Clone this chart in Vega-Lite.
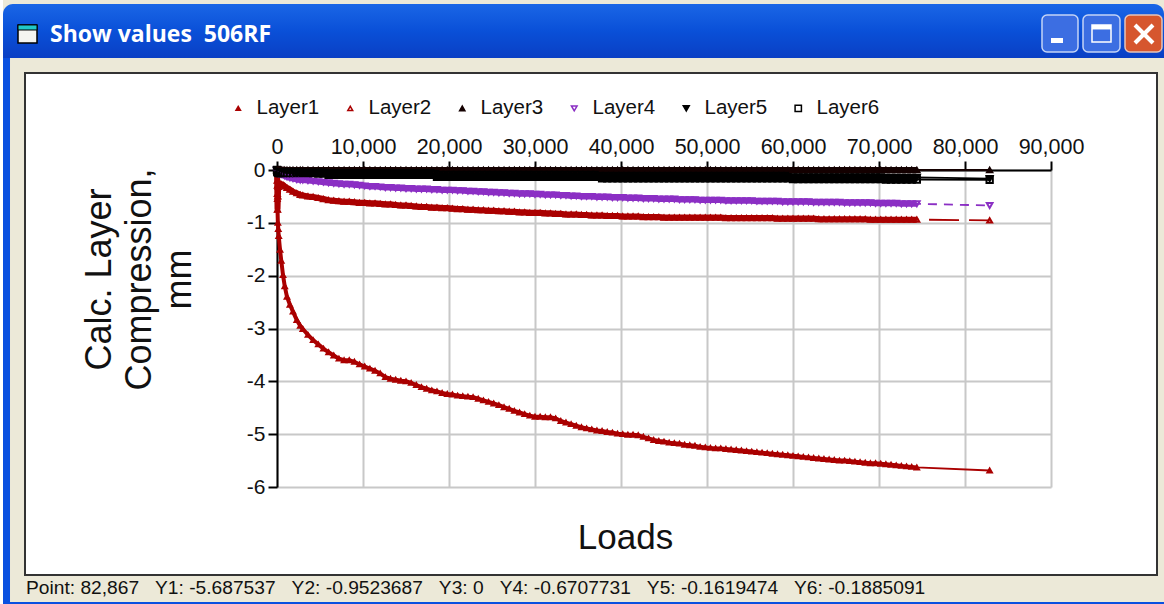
{"$schema":"https://vega.github.io/schema/vega-lite/v6.json","width":1132,"height":502,"autosize":"none","padding":{"left":25,"top":73,"right":7,"bottom":29},"background":"#ece9d8","view":{"fill":"#ffffff","stroke":"#333333","strokeWidth":2},
"datasets":{"loads":[
{"L":0,"Layer1":0,"Layer2":0,"Layer3":0,"Layer4":0,"Layer5":0,"Layer6":0},
{"L":20,"Layer1":-0.3,"Layer2":-0.2,"Layer3":0,"Layer4":-0.02,"Layer5":-0.01,"Layer6":-0.02},
{"L":40,"Layer1":-0.55,"Layer2":-0.45,"Layer3":0,"Layer4":-0.04,"Layer5":-0.02,"Layer6":-0.03},
{"L":60,"Layer1":-0.75,"Layer2":-0.75,"Layer3":0,"Layer4":-0.05,"Layer5":-0.02,"Layer6":-0.04},
{"L":100,"Layer1":-1,"Layer2":-0.5,"Layer3":0,"Layer4":-0.06,"Layer5":-0.03,"Layer6":-0.05},
{"L":150,"Layer1":-1.12,"Layer2":-0.32,"Layer3":0,"Layer4":-0.06,"Layer5":-0.03,"Layer6":-0.05},
{"L":200,"Layer1":-1.25,"Layer2":-0.27,"Layer3":0,"Layer4":-0.07,"Layer5":-0.03,"Layer6":-0.06},
{"L":350,"Layer1":-1.51,"Layer2":-0.26,"Layer3":0,"Layer4":-0.07,"Layer5":-0.03,"Layer6":-0.06},
{"L":500,"Layer1":-1.72,"Layer2":-0.27,"Layer3":0,"Layer4":-0.08,"Layer5":-0.03,"Layer6":-0.06},
{"L":700,"Layer1":-1.99,"Layer2":-0.28,"Layer3":0,"Layer4":-0.09,"Layer5":-0.03,"Layer6":-0.06},
{"L":900,"Layer1":-2.2,"Layer2":-0.31,"Layer3":0,"Layer4":-0.11,"Layer5":-0.03,"Layer6":-0.06},
{"L":1160,"Layer1":-2.4,"Layer2":-0.34,"Layer3":0,"Layer4":-0.13,"Layer5":-0.03,"Layer6":-0.06},
{"L":1500,"Layer1":-2.55,"Layer2":-0.37,"Layer3":0,"Layer4":-0.15,"Layer5":-0.03,"Layer6":-0.06},
{"L":1860,"Layer1":-2.68,"Layer2":-0.41,"Layer3":0,"Layer4":-0.16,"Layer5":-0.03,"Layer6":-0.06},
{"L":2300,"Layer1":-2.84,"Layer2":-0.44,"Layer3":0,"Layer4":-0.18,"Layer5":-0.03,"Layer6":-0.06},
{"L":2700,"Layer1":-2.95,"Layer2":-0.47,"Layer3":0,"Layer4":-0.19,"Layer5":-0.03,"Layer6":-0.06},
{"L":3000,"Layer1":-3.01,"Layer2":-0.48,"Layer3":0,"Layer4":-0.19,"Layer5":-0.04,"Layer6":-0.06},
{"L":3600,"Layer1":-3.12,"Layer2":-0.5,"Layer3":0,"Layer4":-0.2,"Layer5":-0.04,"Layer6":-0.06},
{"L":4200,"Layer1":-3.22,"Layer2":-0.51,"Layer3":0,"Layer4":-0.21,"Layer5":-0.04,"Layer6":-0.06},
{"L":4800,"Layer1":-3.3,"Layer2":-0.53,"Layer3":0,"Layer4":-0.22,"Layer5":-0.04,"Layer6":-0.07},
{"L":5400,"Layer1":-3.38,"Layer2":-0.55,"Layer3":0,"Layer4":-0.23,"Layer5":-0.04,"Layer6":-0.07},
{"L":6000,"Layer1":-3.45,"Layer2":-0.57,"Layer3":0,"Layer4":-0.24,"Layer5":-0.05,"Layer6":-0.09},
{"L":6600,"Layer1":-3.51,"Layer2":-0.58,"Layer3":0,"Layer4":-0.25,"Layer5":-0.05,"Layer6":-0.09},
{"L":7200,"Layer1":-3.57,"Layer2":-0.59,"Layer3":0,"Layer4":-0.26,"Layer5":-0.05,"Layer6":-0.09},
{"L":7800,"Layer1":-3.6,"Layer2":-0.6,"Layer3":0,"Layer4":-0.27,"Layer5":-0.05,"Layer6":-0.09},
{"L":8400,"Layer1":-3.6,"Layer2":-0.6,"Layer3":0,"Layer4":-0.27,"Layer5":-0.05,"Layer6":-0.09},
{"L":9000,"Layer1":-3.63,"Layer2":-0.61,"Layer3":0,"Layer4":-0.28,"Layer5":-0.05,"Layer6":-0.09},
{"L":9600,"Layer1":-3.68,"Layer2":-0.62,"Layer3":0,"Layer4":-0.29,"Layer5":-0.05,"Layer6":-0.09},
{"L":10200,"Layer1":-3.72,"Layer2":-0.62,"Layer3":0,"Layer4":-0.3,"Layer5":-0.05,"Layer6":-0.09},
{"L":10800,"Layer1":-3.76,"Layer2":-0.63,"Layer3":0,"Layer4":-0.31,"Layer5":-0.05,"Layer6":-0.09},
{"L":11400,"Layer1":-3.8,"Layer2":-0.63,"Layer3":0,"Layer4":-0.31,"Layer5":-0.05,"Layer6":-0.09},
{"L":12000,"Layer1":-3.85,"Layer2":-0.64,"Layer3":0,"Layer4":-0.32,"Layer5":-0.05,"Layer6":-0.09},
{"L":12600,"Layer1":-3.92,"Layer2":-0.65,"Layer3":0,"Layer4":-0.33,"Layer5":-0.05,"Layer6":-0.09},
{"L":13200,"Layer1":-3.95,"Layer2":-0.65,"Layer3":0,"Layer4":-0.33,"Layer5":-0.05,"Layer6":-0.09},
{"L":13800,"Layer1":-3.97,"Layer2":-0.66,"Layer3":0,"Layer4":-0.34,"Layer5":-0.05,"Layer6":-0.09},
{"L":14400,"Layer1":-3.99,"Layer2":-0.67,"Layer3":0,"Layer4":-0.34,"Layer5":-0.05,"Layer6":-0.09},
{"L":15000,"Layer1":-4,"Layer2":-0.67,"Layer3":0,"Layer4":-0.35,"Layer5":-0.05,"Layer6":-0.09},
{"L":15600,"Layer1":-4.03,"Layer2":-0.68,"Layer3":0,"Layer4":-0.35,"Layer5":-0.05,"Layer6":-0.09},
{"L":16200,"Layer1":-4.07,"Layer2":-0.69,"Layer3":0,"Layer4":-0.36,"Layer5":-0.05,"Layer6":-0.09},
{"L":16800,"Layer1":-4.11,"Layer2":-0.7,"Layer3":0,"Layer4":-0.36,"Layer5":-0.05,"Layer6":-0.09},
{"L":17400,"Layer1":-4.14,"Layer2":-0.7,"Layer3":0,"Layer4":-0.36,"Layer5":-0.05,"Layer6":-0.09},
{"L":18000,"Layer1":-4.17,"Layer2":-0.71,"Layer3":0,"Layer4":-0.37,"Layer5":-0.05,"Layer6":-0.09},
{"L":18600,"Layer1":-4.19,"Layer2":-0.71,"Layer3":0,"Layer4":-0.37,"Layer5":-0.07,"Layer6":-0.13},
{"L":19200,"Layer1":-4.22,"Layer2":-0.72,"Layer3":0,"Layer4":-0.38,"Layer5":-0.08,"Layer6":-0.13},
{"L":19800,"Layer1":-4.24,"Layer2":-0.72,"Layer3":0,"Layer4":-0.38,"Layer5":-0.08,"Layer6":-0.13},
{"L":20400,"Layer1":-4.25,"Layer2":-0.73,"Layer3":0,"Layer4":-0.38,"Layer5":-0.08,"Layer6":-0.13},
{"L":21000,"Layer1":-4.27,"Layer2":-0.74,"Layer3":0,"Layer4":-0.39,"Layer5":-0.08,"Layer6":-0.13},
{"L":21600,"Layer1":-4.28,"Layer2":-0.74,"Layer3":0,"Layer4":-0.39,"Layer5":-0.08,"Layer6":-0.13},
{"L":22200,"Layer1":-4.29,"Layer2":-0.75,"Layer3":0,"Layer4":-0.4,"Layer5":-0.08,"Layer6":-0.13},
{"L":22800,"Layer1":-4.3,"Layer2":-0.75,"Layer3":0,"Layer4":-0.4,"Layer5":-0.08,"Layer6":-0.13},
{"L":23400,"Layer1":-4.33,"Layer2":-0.76,"Layer3":0,"Layer4":-0.41,"Layer5":-0.08,"Layer6":-0.13},
{"L":24000,"Layer1":-4.36,"Layer2":-0.76,"Layer3":0,"Layer4":-0.41,"Layer5":-0.08,"Layer6":-0.13},
{"L":24600,"Layer1":-4.39,"Layer2":-0.77,"Layer3":0,"Layer4":-0.42,"Layer5":-0.08,"Layer6":-0.13},
{"L":25200,"Layer1":-4.42,"Layer2":-0.77,"Layer3":0,"Layer4":-0.42,"Layer5":-0.08,"Layer6":-0.13},
{"L":25800,"Layer1":-4.45,"Layer2":-0.78,"Layer3":0,"Layer4":-0.43,"Layer5":-0.08,"Layer6":-0.13},
{"L":26400,"Layer1":-4.49,"Layer2":-0.78,"Layer3":0,"Layer4":-0.43,"Layer5":-0.08,"Layer6":-0.13},
{"L":27000,"Layer1":-4.52,"Layer2":-0.79,"Layer3":0,"Layer4":-0.44,"Layer5":-0.08,"Layer6":-0.13},
{"L":27600,"Layer1":-4.56,"Layer2":-0.79,"Layer3":0,"Layer4":-0.44,"Layer5":-0.08,"Layer6":-0.13},
{"L":28200,"Layer1":-4.59,"Layer2":-0.8,"Layer3":0,"Layer4":-0.45,"Layer5":-0.08,"Layer6":-0.13},
{"L":28800,"Layer1":-4.62,"Layer2":-0.8,"Layer3":0,"Layer4":-0.45,"Layer5":-0.08,"Layer6":-0.13},
{"L":29400,"Layer1":-4.65,"Layer2":-0.81,"Layer3":0,"Layer4":-0.45,"Layer5":-0.08,"Layer6":-0.13},
{"L":30000,"Layer1":-4.67,"Layer2":-0.81,"Layer3":0,"Layer4":-0.46,"Layer5":-0.08,"Layer6":-0.13},
{"L":30600,"Layer1":-4.67,"Layer2":-0.81,"Layer3":0,"Layer4":-0.46,"Layer5":-0.08,"Layer6":-0.13},
{"L":31200,"Layer1":-4.68,"Layer2":-0.82,"Layer3":0,"Layer4":-0.47,"Layer5":-0.08,"Layer6":-0.13},
{"L":31800,"Layer1":-4.68,"Layer2":-0.82,"Layer3":0,"Layer4":-0.47,"Layer5":-0.08,"Layer6":-0.13},
{"L":32400,"Layer1":-4.7,"Layer2":-0.83,"Layer3":0,"Layer4":-0.47,"Layer5":-0.08,"Layer6":-0.13},
{"L":33000,"Layer1":-4.75,"Layer2":-0.83,"Layer3":0,"Layer4":-0.48,"Layer5":-0.08,"Layer6":-0.13},
{"L":33600,"Layer1":-4.78,"Layer2":-0.84,"Layer3":0,"Layer4":-0.48,"Layer5":-0.08,"Layer6":-0.13},
{"L":34200,"Layer1":-4.81,"Layer2":-0.84,"Layer3":0,"Layer4":-0.49,"Layer5":-0.08,"Layer6":-0.13},
{"L":34800,"Layer1":-4.84,"Layer2":-0.84,"Layer3":0,"Layer4":-0.49,"Layer5":-0.08,"Layer6":-0.13},
{"L":35400,"Layer1":-4.87,"Layer2":-0.85,"Layer3":0,"Layer4":-0.5,"Layer5":-0.08,"Layer6":-0.13},
{"L":36000,"Layer1":-4.89,"Layer2":-0.85,"Layer3":0,"Layer4":-0.5,"Layer5":-0.08,"Layer6":-0.13},
{"L":36600,"Layer1":-4.91,"Layer2":-0.86,"Layer3":0,"Layer4":-0.5,"Layer5":-0.08,"Layer6":-0.13},
{"L":37200,"Layer1":-4.93,"Layer2":-0.86,"Layer3":0,"Layer4":-0.51,"Layer5":-0.08,"Layer6":-0.13},
{"L":37800,"Layer1":-4.94,"Layer2":-0.86,"Layer3":0,"Layer4":-0.51,"Layer5":-0.1,"Layer6":-0.16},
{"L":38400,"Layer1":-4.96,"Layer2":-0.87,"Layer3":0,"Layer4":-0.51,"Layer5":-0.1,"Layer6":-0.16},
{"L":39000,"Layer1":-4.97,"Layer2":-0.87,"Layer3":0,"Layer4":-0.52,"Layer5":-0.1,"Layer6":-0.16},
{"L":39600,"Layer1":-4.99,"Layer2":-0.87,"Layer3":0,"Layer4":-0.52,"Layer5":-0.1,"Layer6":-0.16},
{"L":40200,"Layer1":-5,"Layer2":-0.88,"Layer3":0,"Layer4":-0.52,"Layer5":-0.1,"Layer6":-0.16},
{"L":40800,"Layer1":-5.01,"Layer2":-0.88,"Layer3":0,"Layer4":-0.53,"Layer5":-0.1,"Layer6":-0.16},
{"L":41400,"Layer1":-5.01,"Layer2":-0.88,"Layer3":0,"Layer4":-0.53,"Layer5":-0.1,"Layer6":-0.16},
{"L":42000,"Layer1":-5.02,"Layer2":-0.88,"Layer3":0,"Layer4":-0.53,"Layer5":-0.1,"Layer6":-0.16},
{"L":42600,"Layer1":-5.05,"Layer2":-0.89,"Layer3":0,"Layer4":-0.54,"Layer5":-0.1,"Layer6":-0.16},
{"L":43200,"Layer1":-5.08,"Layer2":-0.89,"Layer3":0,"Layer4":-0.54,"Layer5":-0.1,"Layer6":-0.16},
{"L":43800,"Layer1":-5.11,"Layer2":-0.89,"Layer3":0,"Layer4":-0.54,"Layer5":-0.1,"Layer6":-0.16},
{"L":44400,"Layer1":-5.13,"Layer2":-0.89,"Layer3":0,"Layer4":-0.55,"Layer5":-0.1,"Layer6":-0.16},
{"L":45000,"Layer1":-5.14,"Layer2":-0.9,"Layer3":0,"Layer4":-0.55,"Layer5":-0.1,"Layer6":-0.16},
{"L":45600,"Layer1":-5.16,"Layer2":-0.9,"Layer3":0,"Layer4":-0.55,"Layer5":-0.1,"Layer6":-0.16},
{"L":46200,"Layer1":-5.17,"Layer2":-0.9,"Layer3":0,"Layer4":-0.55,"Layer5":-0.1,"Layer6":-0.16},
{"L":46800,"Layer1":-5.18,"Layer2":-0.9,"Layer3":0,"Layer4":-0.56,"Layer5":-0.1,"Layer6":-0.16},
{"L":47400,"Layer1":-5.2,"Layer2":-0.9,"Layer3":0,"Layer4":-0.56,"Layer5":-0.1,"Layer6":-0.16},
{"L":48000,"Layer1":-5.21,"Layer2":-0.9,"Layer3":0,"Layer4":-0.56,"Layer5":-0.1,"Layer6":-0.16},
{"L":48600,"Layer1":-5.22,"Layer2":-0.9,"Layer3":0,"Layer4":-0.56,"Layer5":-0.1,"Layer6":-0.16},
{"L":49200,"Layer1":-5.24,"Layer2":-0.9,"Layer3":0,"Layer4":-0.57,"Layer5":-0.1,"Layer6":-0.16},
{"L":49800,"Layer1":-5.25,"Layer2":-0.9,"Layer3":0,"Layer4":-0.57,"Layer5":-0.1,"Layer6":-0.16},
{"L":50400,"Layer1":-5.26,"Layer2":-0.9,"Layer3":0,"Layer4":-0.57,"Layer5":-0.1,"Layer6":-0.16},
{"L":51000,"Layer1":-5.27,"Layer2":-0.9,"Layer3":0,"Layer4":-0.57,"Layer5":-0.1,"Layer6":-0.16},
{"L":51600,"Layer1":-5.27,"Layer2":-0.9,"Layer3":0,"Layer4":-0.57,"Layer5":-0.1,"Layer6":-0.16},
{"L":52200,"Layer1":-5.28,"Layer2":-0.91,"Layer3":0,"Layer4":-0.58,"Layer5":-0.1,"Layer6":-0.16},
{"L":52800,"Layer1":-5.29,"Layer2":-0.91,"Layer3":0,"Layer4":-0.58,"Layer5":-0.1,"Layer6":-0.16},
{"L":53400,"Layer1":-5.3,"Layer2":-0.91,"Layer3":0,"Layer4":-0.58,"Layer5":-0.1,"Layer6":-0.16},
{"L":54000,"Layer1":-5.31,"Layer2":-0.91,"Layer3":0,"Layer4":-0.58,"Layer5":-0.1,"Layer6":-0.16},
{"L":54600,"Layer1":-5.32,"Layer2":-0.91,"Layer3":0,"Layer4":-0.58,"Layer5":-0.1,"Layer6":-0.16},
{"L":55200,"Layer1":-5.33,"Layer2":-0.91,"Layer3":0,"Layer4":-0.58,"Layer5":-0.1,"Layer6":-0.16},
{"L":55800,"Layer1":-5.34,"Layer2":-0.91,"Layer3":0,"Layer4":-0.59,"Layer5":-0.1,"Layer6":-0.16},
{"L":56400,"Layer1":-5.35,"Layer2":-0.91,"Layer3":0,"Layer4":-0.59,"Layer5":-0.1,"Layer6":-0.16},
{"L":57000,"Layer1":-5.36,"Layer2":-0.91,"Layer3":0,"Layer4":-0.59,"Layer5":-0.1,"Layer6":-0.16},
{"L":57600,"Layer1":-5.37,"Layer2":-0.91,"Layer3":0,"Layer4":-0.59,"Layer5":-0.1,"Layer6":-0.16},
{"L":58200,"Layer1":-5.38,"Layer2":-0.92,"Layer3":0,"Layer4":-0.59,"Layer5":-0.1,"Layer6":-0.16},
{"L":58800,"Layer1":-5.39,"Layer2":-0.92,"Layer3":0,"Layer4":-0.6,"Layer5":-0.1,"Layer6":-0.16},
{"L":59400,"Layer1":-5.4,"Layer2":-0.92,"Layer3":0,"Layer4":-0.6,"Layer5":-0.1,"Layer6":-0.16},
{"L":60000,"Layer1":-5.41,"Layer2":-0.92,"Layer3":0,"Layer4":-0.6,"Layer5":-0.13,"Layer6":-0.17},
{"L":60600,"Layer1":-5.42,"Layer2":-0.92,"Layer3":0,"Layer4":-0.6,"Layer5":-0.13,"Layer6":-0.17},
{"L":61200,"Layer1":-5.43,"Layer2":-0.92,"Layer3":0,"Layer4":-0.6,"Layer5":-0.13,"Layer6":-0.17},
{"L":61800,"Layer1":-5.44,"Layer2":-0.92,"Layer3":0,"Layer4":-0.6,"Layer5":-0.13,"Layer6":-0.17},
{"L":62400,"Layer1":-5.45,"Layer2":-0.92,"Layer3":0,"Layer4":-0.61,"Layer5":-0.13,"Layer6":-0.17},
{"L":63000,"Layer1":-5.46,"Layer2":-0.93,"Layer3":0,"Layer4":-0.61,"Layer5":-0.13,"Layer6":-0.17},
{"L":63600,"Layer1":-5.47,"Layer2":-0.93,"Layer3":0,"Layer4":-0.61,"Layer5":-0.13,"Layer6":-0.17},
{"L":64200,"Layer1":-5.48,"Layer2":-0.93,"Layer3":0,"Layer4":-0.61,"Layer5":-0.13,"Layer6":-0.17},
{"L":64800,"Layer1":-5.49,"Layer2":-0.93,"Layer3":0,"Layer4":-0.61,"Layer5":-0.13,"Layer6":-0.17},
{"L":65400,"Layer1":-5.5,"Layer2":-0.93,"Layer3":0,"Layer4":-0.61,"Layer5":-0.13,"Layer6":-0.17},
{"L":66000,"Layer1":-5.5,"Layer2":-0.93,"Layer3":0,"Layer4":-0.62,"Layer5":-0.13,"Layer6":-0.17},
{"L":66600,"Layer1":-5.51,"Layer2":-0.93,"Layer3":0,"Layer4":-0.62,"Layer5":-0.13,"Layer6":-0.17},
{"L":67200,"Layer1":-5.52,"Layer2":-0.93,"Layer3":0,"Layer4":-0.62,"Layer5":-0.13,"Layer6":-0.17},
{"L":67800,"Layer1":-5.53,"Layer2":-0.93,"Layer3":0,"Layer4":-0.62,"Layer5":-0.13,"Layer6":-0.17},
{"L":68400,"Layer1":-5.54,"Layer2":-0.93,"Layer3":0,"Layer4":-0.62,"Layer5":-0.13,"Layer6":-0.17},
{"L":69000,"Layer1":-5.55,"Layer2":-0.94,"Layer3":0,"Layer4":-0.62,"Layer5":-0.13,"Layer6":-0.17},
{"L":69600,"Layer1":-5.55,"Layer2":-0.94,"Layer3":0,"Layer4":-0.63,"Layer5":-0.13,"Layer6":-0.17},
{"L":70200,"Layer1":-5.56,"Layer2":-0.94,"Layer3":0,"Layer4":-0.63,"Layer5":-0.13,"Layer6":-0.17},
{"L":70800,"Layer1":-5.57,"Layer2":-0.94,"Layer3":0,"Layer4":-0.63,"Layer5":-0.14,"Layer6":-0.18},
{"L":71400,"Layer1":-5.58,"Layer2":-0.94,"Layer3":0,"Layer4":-0.63,"Layer5":-0.14,"Layer6":-0.18},
{"L":72000,"Layer1":-5.59,"Layer2":-0.94,"Layer3":0,"Layer4":-0.63,"Layer5":-0.14,"Layer6":-0.18},
{"L":72600,"Layer1":-5.6,"Layer2":-0.94,"Layer3":0,"Layer4":-0.64,"Layer5":-0.14,"Layer6":-0.18},
{"L":73200,"Layer1":-5.61,"Layer2":-0.94,"Layer3":0,"Layer4":-0.64,"Layer5":-0.14,"Layer6":-0.18},
{"L":73800,"Layer1":-5.62,"Layer2":-0.94,"Layer3":0,"Layer4":-0.64,"Layer5":-0.14,"Layer6":-0.18},
{"L":74400,"Layer1":-5.63,"Layer2":-0.94,"Layer3":0,"Layer4":-0.64,"Layer5":-0.14,"Layer6":-0.18},
{"L":82867,"Layer1":-5.687537,"Layer2":-0.9523687,"Layer3":0,"Layer4":-0.6707731,"Layer5":-0.1619474,"Layer6":-0.1885091}
]},
"layer":[
{"data":{"name":"loads"},"transform":[{"fold":["Layer1","Layer2","Layer3","Layer4","Layer5","Layer6"],"as":["Layer","Compression"]}],
"layer":[
{"transform":[{"filter":"datum.L <= 74400 && datum.Layer == 'Layer1'"}],"mark":{"type":"line","strokeWidth":4,"interpolate":"linear"},"encoding":{"stroke":{"field":"Layer","type":"nominal","title":null,"scale":{"domain":["Layer1","Layer2","Layer3","Layer4","Layer5","Layer6"],"range":["#aa0000","#aa0000","#140000","#8b2fc4","#000000","#000000"]}}}},
{"transform":[{"filter":"datum.L <= 74400 && datum.Layer != 'Layer1'"}],"mark":{"type":"line","strokeWidth":6,"interpolate":"linear"},"encoding":{"stroke":{"field":"Layer","type":"nominal","title":null,"scale":{"domain":["Layer1","Layer2","Layer3","Layer4","Layer5","Layer6"],"range":["#aa0000","#aa0000","#140000","#8b2fc4","#000000","#000000"]}}}},
{"transform":[{"filter":"datum.Layer != 'Layer2' && datum.Layer != 'Layer4'"}],"mark":{"type":"line","strokeWidth":1.8,"interpolate":"linear"},"encoding":{"stroke":{"field":"Layer","type":"nominal","title":null,"scale":{"domain":["Layer1","Layer2","Layer3","Layer4","Layer5","Layer6"],"range":["#aa0000","#aa0000","#140000","#8b2fc4","#000000","#000000"]}}}},
{"transform":[{"filter":"datum.Layer == 'Layer2'"}],"mark":{"type":"line","strokeWidth":1.8,"strokeDash":[30,10],"interpolate":"linear"},"encoding":{"stroke":{"field":"Layer","type":"nominal","title":null,"scale":{"domain":["Layer1","Layer2","Layer3","Layer4","Layer5","Layer6"],"range":["#aa0000","#aa0000","#140000","#8b2fc4","#000000","#000000"]}}}},
{"transform":[{"filter":"datum.Layer == 'Layer4'"}],"mark":{"type":"line","strokeWidth":1.8,"strokeDash":[9,7],"interpolate":"linear"},"encoding":{"stroke":{"field":"Layer","type":"nominal","title":null,"scale":{"domain":["Layer1","Layer2","Layer3","Layer4","Layer5","Layer6"],"range":["#aa0000","#aa0000","#140000","#8b2fc4","#000000","#000000"]}}}},
{"mark":{"type":"point","strokeWidth":2,"opacity":1},"encoding":{
"stroke":{"field":"Layer","type":"nominal","title":null,"scale":{"domain":["Layer1","Layer2","Layer3","Layer4","Layer5","Layer6"],"range":["#aa0000","#aa0000","#140000","#8b2fc4","#000000","#000000"]},"legend":{"orient":"none","legendX":203,"legendY":25,"direction":"horizontal","columns":6,"columnPadding":20,"labelFont":"Liberation Sans","labelFontSize":20.5,"labelColor":"#111111","labelOffset":8,"symbolStrokeWidth":1.5,"gridAlign":"all"}},
"fill":{"field":"Layer","type":"nominal","title":null,"scale":{"domain":["Layer1","Layer2","Layer3","Layer4","Layer5","Layer6"],"range":["#aa0000","transparent","#140000","transparent","#000000","transparent"]}},
"shape":{"field":"Layer","type":"nominal","title":null,"scale":{"domain":["Layer1","Layer2","Layer3","Layer4","Layer5","Layer6"],"range":["triangle-up","triangle-up","triangle-up","triangle-down","triangle-down","square"]}},
"size":{"field":"Layer","type":"nominal","title":null,"scale":{"domain":["Layer1","Layer2","Layer3","Layer4","Layer5","Layer6"],"range":[20,40,48,48,48,40]}}}}
],
"encoding":{
"x":{"field":"L","type":"quantitative","scale":{"domain":[0,90000],"range":[252,1026],"nice":false,"zero":false},"axis":{"orient":"top","offset":-97,"values":[0,10000,20000,30000,40000,50000,60000,70000,80000,90000],"labelExpr":"format(datum.value, ',')","labelOverlap":false,"labelFlush":false,"labelBound":false,"title":"Loads","titleFont":"Liberation Sans","titleFontSize":35,"titleFontWeight":"normal","titleColor":"#111111","titleX":600,"titleY":367,"titleBaseline":"middle","labelFont":"Liberation Sans","labelFontSize":21.5,"labelColor":"#111111","labelPadding":3,"tickSize":9,"tickWidth":2,"tickColor":"#000000","domainColor":"#000000","domainWidth":2,"grid":true,"gridColor":"#c8c8c8","gridWidth":2}},
"y":{"field":"Compression","type":"quantitative","scale":{"domain":[-6,0],"range":[414,97],"nice":false,"zero":false},"axis":{"orient":"left","offset":-252,"values":[-6,-5,-4,-3,-2,-1,0],"labelExpr":"'' + datum.value","labelOverlap":false,"labelFlush":false,"title":["Calc. Layer","Compression,","mm"],"titleFont":"Liberation Sans","titleFontSize":36,"titleFontWeight":"normal","titleColor":"#111111","titleLineHeight":40,"titleAngle":-90,"titleX":-178,"titleY":206,"titleBaseline":"middle","titleAlign":"center","labelFont":"Liberation Sans","labelFontSize":21,"labelColor":"#111111","labelPadding":3,"tickSize":9,"tickWidth":2,"tickColor":"#000000","domainColor":"#000000","domainWidth":2,"grid":true,"gridColor":"#c8c8c8","gridWidth":2}}
}},
{"data":{"values":[{}]},"mark":{"type":"rect","fill":{"gradient":"linear","x1":0,"y1":0,"x2":0,"y2":1,"stops":[{"offset":0,"color":"#1a66e6"},{"offset":0.5,"color":"#0a50d8"},{"offset":1,"color":"#0a3fc4"}]},"cornerRadiusTopLeft":10,"cornerRadiusTopRight":10},"encoding":{"x":{"datum":-31860,"type":"quantitative"},"x2":{"datum":103140},"y":{"datum":3.142,"type":"quantitative"},"y2":{"datum":2.12}}},
{"data":{"values":[{}]},"mark":{"type":"rect","fill":"#0a50e0"},"encoding":{"x":{"datum":-31860,"type":"quantitative"},"x2":{"datum":-31046},"y":{"datum":2.12,"type":"quantitative"},"y2":{"datum":-8.177}}},
{"data":{"values":[{}]},"mark":{"type":"rect","fill":"#0a50e0"},"encoding":{"x":{"datum":-31860,"type":"quantitative"},"x2":{"datum":103140},"y":{"datum":-8.177,"type":"quantitative"},"y2":{"datum":-8.2146}}},
{"data":{"values":[{}]},"mark":{"type":"rect","fill":"#ffffff"},"encoding":{"x":{"datum":-32209,"type":"quantitative"},"x2":{"datum":-31860},"y":{"datum":3.218,"type":"quantitative"},"y2":{"datum":-8.2146}}},
{"data":{"values":[{}]},"mark":{"type":"rect","fill":"#3c6ee2","stroke":"#c4d4f6","strokeWidth":1.5,"cornerRadius":5},"encoding":{"x":{"datum":88953,"type":"quantitative"},"x2":{"datum":93140},"y":{"datum":2.934,"type":"quantitative"},"y2":{"datum":2.233}}},
{"data":{"values":[{}]},"mark":{"type":"rect","fill":"#3c6ee2","stroke":"#c4d4f6","strokeWidth":1.5,"cornerRadius":5},"encoding":{"x":{"datum":93721,"type":"quantitative"},"x2":{"datum":98023},"y":{"datum":2.934,"type":"quantitative"},"y2":{"datum":2.233}}},
{"data":{"values":[{}]},"mark":{"type":"rect","fill":"#d6562e","stroke":"#e8c4b8","strokeWidth":1.5,"cornerRadius":5},"encoding":{"x":{"datum":98605,"type":"quantitative"},"x2":{"datum":102907},"y":{"datum":2.934,"type":"quantitative"},"y2":{"datum":2.233}}},
{"data":{"values":[{}]},"mark":{"type":"rect","fill":"#ffffff"},"encoding":{"x":{"datum":90000,"type":"quantitative"},"x2":{"datum":91395},"y":{"datum":2.498,"type":"quantitative"},"y2":{"datum":2.404}}},
{"data":{"values":[{}]},"mark":{"type":"rect","fill":"#3c6ee2","stroke":"#ffffff","strokeWidth":1.5},"encoding":{"x":{"datum":94767,"type":"quantitative"},"x2":{"datum":96977},"y":{"datum":2.745,"type":"quantitative"},"y2":{"datum":2.423}}},
{"data":{"values":[{}]},"mark":{"type":"rect","fill":"#ffffff"},"encoding":{"x":{"datum":94767,"type":"quantitative"},"x2":{"datum":96977},"y":{"datum":2.745,"type":"quantitative"},"y2":{"datum":2.66}}},
{"data":{"values":[{}]},"mark":{"type":"rule","stroke":"#ffffff","strokeWidth":4},"encoding":{"x":{"datum":99767,"type":"quantitative"},"x2":{"datum":101860},"y":{"datum":2.745,"type":"quantitative"},"y2":{"datum":2.404}}},
{"data":{"values":[{}]},"mark":{"type":"rule","stroke":"#ffffff","strokeWidth":4},"encoding":{"x":{"datum":99767,"type":"quantitative"},"x2":{"datum":101860},"y":{"datum":2.404,"type":"quantitative"},"y2":{"datum":2.745}}},
{"data":{"values":[{}]},"mark":{"type":"rect","fill":"#f4f4f0","stroke":"#000000","strokeWidth":1.5},"encoding":{"x":{"datum":-30116,"type":"quantitative"},"x2":{"datum":-27907},"y":{"datum":2.745,"type":"quantitative"},"y2":{"datum":2.404}}},
{"data":{"values":[{}]},"mark":{"type":"rect","fill":"#20c8c8","stroke":"#000000","strokeWidth":1},"encoding":{"x":{"datum":-30116,"type":"quantitative"},"x2":{"datum":-27907},"y":{"datum":2.745,"type":"quantitative"},"y2":{"datum":2.65}}},
{"data":{"values":[{}]},"mark":{"type":"text","align":"left","baseline":"middle","font":"Open Sans","fontSize":23,"fontWeight":"bold","color":"#ffffff"},"encoding":{"x":{"datum":-26395,"type":"quantitative"},"y":{"datum":2.555,"type":"quantitative"},"text":{"datum":"Show values\u00a0\u00a0506RF"}}},
{"data":{"values":[{}]},"mark":{"type":"text","align":"left","baseline":"middle","font":"Liberation Sans","fontSize":19.2,"color":"#111111"},"encoding":{"x":{"datum":-29186,"type":"quantitative"},"y":{"datum":-7.912,"type":"quantitative"},"text":{"datum":"Point: 82,867\u00a0\u00a0\u00a0Y1: -5.687537\u00a0\u00a0\u00a0Y2: -0.9523687\u00a0\u00a0\u00a0Y3: 0\u00a0\u00a0\u00a0Y4: -0.6707731\u00a0\u00a0\u00a0Y5: -0.1619474\u00a0\u00a0\u00a0Y6: -0.1885091"}}}
]}
